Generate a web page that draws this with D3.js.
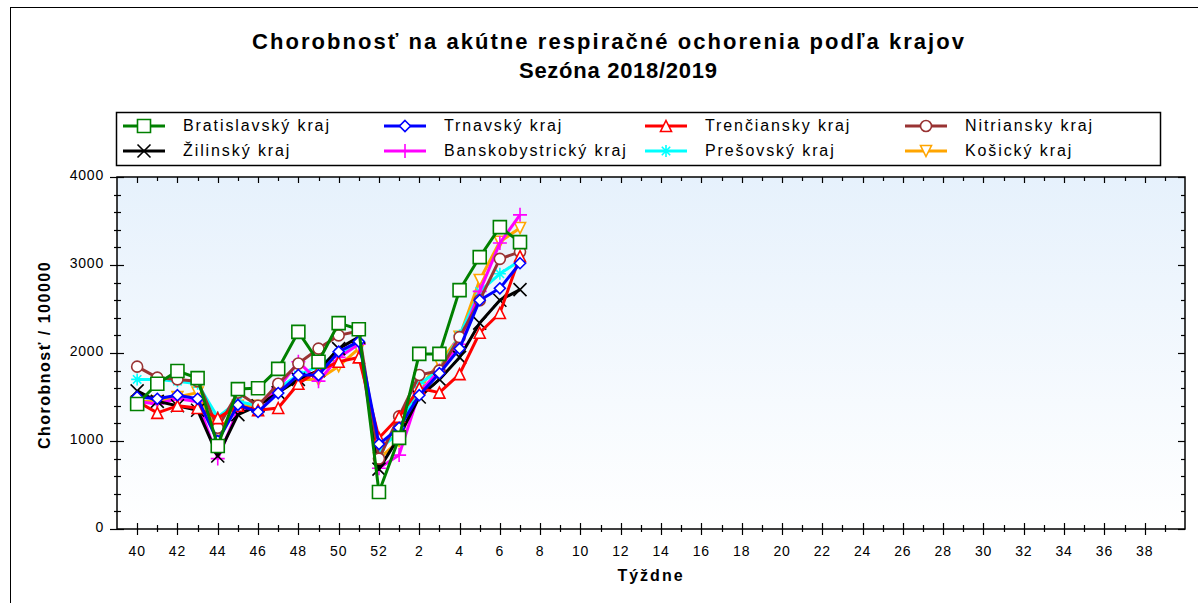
<!DOCTYPE html>
<html>
<head>
<meta charset="utf-8">
<script src="https://cdn.jsdelivr.net/npm/d3@7"></script>
<style>
body { margin: 0; background: #fff; }
text { font-family: "Liberation Sans", Arial, sans-serif; }
</style>
</head>
<body>
<div id="chart"></div>
<script>
// tyzdne sezony 2018/2019
var weeks = [40,41,42,43,44,45,46,47,48,49,50,51,52,1,2,3,4,5,6,7];
var tickLabels = [40,42,44,46,48,50,52,2,4,6,8,10,12,14,16,18,20,22,24,26,28,30,32,34,36,38];
var yTicks = [0,1000,2000,3000,4000];

var bratislavsky    = [1420,1650,1795,1715, 943,1590,1600,1820,2240,1900,2340,2270, 420,1035,1990,1990,2715,3090,3430,3260];
var trnavsky        = [1500,1480,1520,1480,1000,1410,1330,1545,1750,1750,2015,2130, 965,1150,1520,1770,2050,2600,2735,3020];
var trenciansky     = [1450,1320,1400,1375,1260,1400,1350,1375,1650,1800,1900,1950,1035,1275,1600,1550,1760,2230,2455,3100];
var nitriansky      = [1845,1720,1700,1680,1150,1550,1400,1650,1880,2050,2200,2250, 800,1280,1750,1800,2180,2600,3070,3150];
var zilinsky        = [1570,1450,1400,1350, 830,1300,1400,1550,1700,1800,2050,2180, 680,1050,1500,1700,1950,2340,2600,2720];
var banskobystricky = [1450,1420,1480,1450, 800,1350,1380,1600,1900,1680,1950,2100, 690, 840,1550,1800,2100,2700,3250,3570];
var presovsky       = [1700,1700,1680,1650,1270,1450,1400,1600,1750,1850,2000,2100, 900,1100,1650,1800,2200,2700,2900,3050];
var kosicky         = [1450,1450,1500,1550,1100,1400,1400,1550,1700,1700,1850,2050, 800,1000,1600,1890,2185,2830,3265,3420];

var regions = ["Bratislavský kraj","Trnavský kraj","Trenčiansky kraj","Nitriansky kraj",
               "Žilinský kraj","Banskobystrický kraj","Prešovský kraj","Košický kraj"];
var values = [bratislavsky, trnavsky, trenciansky, nitriansky, zilinsky, banskobystricky, presovsky, kosicky];
var colors = ["#008000","#0000ff","#ff0000","#993333","#000000","#ff00ff","#00ffff","#ffa500"];
var markers = ["square","diamond","triangle","circle","x","plus","star","triangleDown"];

var svgWidth = 1198, svgHeight = 603;
var plot = {left: 117, top: 177, right: 1185, bottom: 529};

var svg = d3.select("#chart").append("svg")
	.attr("width", svgWidth)
	.attr("height", svgHeight);

// ramik celeho grafu
svg.append("rect")
	.attr("x", 10.5).attr("y", 7.5)
	.attr("width", 1300).attr("height", 700)
	.attr("fill", "none").attr("stroke", "#000").attr("stroke-width", 1);

svg.append("text")
	.attr("x", 608).attr("y", 49)
	.attr("text-anchor", "middle")
	.attr("textLength", 712).attr("lengthAdjust", "spacing")
	.style("font-size", "22px").style("font-weight", "bold")
	.text("Chorobnosť na akútne respiračné ochorenia podľa krajov");
svg.append("text")
	.attr("x", 618).attr("y", 78)
	.attr("text-anchor", "middle")
	.attr("textLength", 198).attr("lengthAdjust", "spacing")
	.style("font-size", "22px").style("font-weight", "bold")
	.text("Sezóna 2018/2019");

var x = d3.scaleLinear().domain([-1, 52]).range([plot.left, plot.right]);
var y = d3.scaleLinear().domain([0, 4000]).range([plot.bottom, plot.top]);

var defs = svg.append("defs");
var grad = defs.append("linearGradient")
	.attr("id", "bg").attr("x1", 0).attr("y1", 0).attr("x2", 0).attr("y2", 1);
grad.append("stop").attr("offset", "0%").attr("stop-color", "#e6f1fc");
grad.append("stop").attr("offset", "100%").attr("stop-color", "#ffffff");

svg.append("rect")
	.attr("x", plot.left).attr("y", plot.top)
	.attr("width", plot.right - plot.left).attr("height", plot.bottom - plot.top)
	.attr("fill", "url(#bg)");

function markerPath(type, s) {
	var h = s / 2;
	switch (type) {
		case "square": return d3.symbol(d3.symbolSquare, s * s)();
		case "diamond": return "M0," + (-h) + "L" + h + ",0L0," + h + "L" + (-h) + ",0Z";
		case "triangle": return "M0," + (-h) + "L" + h + "," + h + "L" + (-h) + "," + h + "Z";
		case "triangleDown": return "M0," + h + "L" + h + "," + (-h) + "L" + (-h) + "," + (-h) + "Z";
		case "circle": return d3.symbol(d3.symbolCircle, Math.PI * h * h)();
		case "x": return "M" + (-h) + "," + (-h) + "L" + h + "," + h + "M" + h + "," + (-h) + "L" + (-h) + "," + h;
		case "plus": return "M" + (-h) + ",0L" + h + ",0M0," + (-h) + "L0," + h;
		case "star": return "M" + (-h) + ",0L" + h + ",0M0," + (-h) + "L0," + h +
			"M" + (-h*0.7) + "," + (-h*0.7) + "L" + (h*0.7) + "," + (h*0.7) +
			"M" + (h*0.7) + "," + (-h*0.7) + "L" + (-h*0.7) + "," + (h*0.7);
	}
}
var markerSize = {square: 13, diamond: 11, triangle: 11, triangleDown: 11, circle: 11, x: 13, plus: 14, star: 12};
var filled = {square: true, diamond: true, triangle: true, triangleDown: true, circle: true};

var line = d3.line()
	.x(function(d, i) { return x(i); })
	.y(function(d) { return y(d); });

// vykreslenie v opacnom poradi, Bratislavsky navrchu
for (var k = values.length - 1; k >= 0; k--) {
	var g = svg.append("g");
	g.append("path")
		.datum(values[k])
		.attr("fill", "none")
		.attr("stroke", colors[k])
		.attr("stroke-width", 3)
		.attr("stroke-linejoin", "round")
		.attr("d", line);
	g.selectAll("path.m")
		.data(values[k])
		.enter().append("path")
		.attr("class", "m")
		.attr("transform", function(d, i) { return "translate(" + x(i) + "," + y(d) + ")"; })
		.attr("d", markerPath(markers[k], markerSize[markers[k]]))
		.attr("fill", filled[markers[k]] ? "#fff" : "none")
		.attr("stroke", colors[k])
		.attr("stroke-width", 1.6);
}

// ramik grafu
svg.append("rect")
	.attr("x", plot.left).attr("y", plot.top)
	.attr("width", plot.right - plot.left).attr("height", plot.bottom - plot.top)
	.attr("fill", "none").attr("stroke", "#000").attr("stroke-width", 1.5);

// osi
var axes = svg.append("g").attr("stroke", "#000").attr("stroke-width", 1.2);
d3.range(0, 52).forEach(function(i) {
	var major = (i % 2 === 0);
	var xx = Math.round(x(i)) + 0.5;
	axes.append("line").attr("x1", xx).attr("x2", xx)
		.attr("y1", plot.bottom - (major ? 6 : 4)).attr("y2", plot.bottom + (major ? 6 : 3));
	axes.append("line").attr("x1", xx).attr("x2", xx)
		.attr("y1", plot.top).attr("y2", plot.top + (major ? 6 : 4));
});
d3.range(0, 4001, 200).forEach(function(v) {
	var major = (v % 1000 === 0);
	var yy = Math.round(y(v)) + 0.5;
	axes.append("line").attr("y1", yy).attr("y2", yy)
		.attr("x1", plot.left - (major ? 7 : 3)).attr("x2", plot.left + (major ? 7 : 4));
	axes.append("line").attr("y1", yy).attr("y2", yy)
		.attr("x1", plot.right - (major ? 7 : 4)).attr("x2", plot.right);
});

svg.selectAll("text.xt")
	.data(tickLabels)
	.enter().append("text")
	.attr("class", "xt")
	.attr("x", function(w) { return x(w >= 40 ? w - 40 : w + 12); })
	.attr("y", 556)
	.attr("text-anchor", "middle")
	.style("font-size", "14px").style("letter-spacing", "0.8px")
	.text(function(w) { return w; });

svg.selectAll("text.yt")
	.data(yTicks)
	.enter().append("text")
	.attr("class", "yt")
	.attr("x", 104)
	.attr("y", function(v) { return y(v) + 3; })
	.attr("text-anchor", "end")
	.style("font-size", "14px").style("letter-spacing", "0.8px")
	.text(function(v) { return v; });

svg.append("text")
	.attr("x", 651).attr("y", 581)
	.attr("text-anchor", "middle")
	.style("font-size", "16px").style("font-weight", "bold").style("letter-spacing", "2px")
	.text("Týždne");

svg.append("text")
	.attr("transform", "translate(50,355) rotate(-90)")
	.attr("text-anchor", "middle")
	.style("font-size", "16px").style("font-weight", "bold").style("letter-spacing", "1.5px")
	.text("Chorobnosť / 100000");

// legenda
var legend = svg.append("g");
legend.append("rect")
	.attr("x", 116.5).attr("y", 112.5)
	.attr("width", 1044).attr("height", 53)
	.attr("fill", "#fff").attr("stroke", "#000").attr("stroke-width", 1.5);
var colX = [123, 384, 645, 905];
regions.forEach(function(name, k) {
	var cx = colX[k % 4];
	var cy = k < 4 ? 126 : 151;
	legend.append("line")
		.attr("x1", cx).attr("x2", cx + 42)
		.attr("y1", cy).attr("y2", cy)
		.attr("stroke", colors[k]).attr("stroke-width", 3);
	legend.append("path")
		.attr("transform", "translate(" + (cx + 21) + "," + cy + ")")
		.attr("d", markerPath(markers[k], markerSize[markers[k]]))
		.attr("fill", filled[markers[k]] ? "#fff" : "none")
		.attr("stroke", colors[k]).attr("stroke-width", 1.6);
	legend.append("text")
		.attr("x", cx + 60).attr("y", cy + 5)
		.style("font-size", "16px").style("letter-spacing", "1.9px")
		.text(name);
});
</script>
</body>
</html>
